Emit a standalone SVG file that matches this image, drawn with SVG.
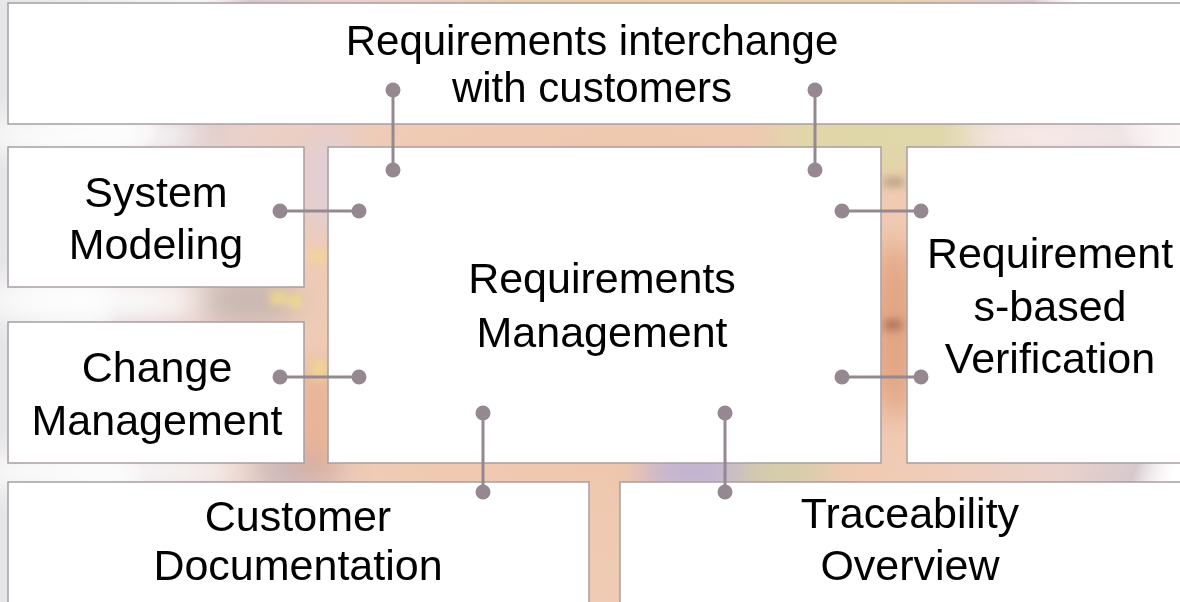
<svg xmlns="http://www.w3.org/2000/svg" width="1180" height="602" viewBox="0 0 1180 602">
  <defs>
    <linearGradient id="bgLeft" x1="0" y1="0" x2="1" y2="0">
      <stop offset="0" stop-color="#e6e5e8"/>
      <stop offset="0.15" stop-color="#f6f5f6"/>
      <stop offset="1" stop-color="#ffffff"/>
    </linearGradient>
    <radialGradient id="wafer" cx="0.5" cy="0.5" r="0.5">
      <stop offset="0" stop-color="#ebbd9e"/>
      <stop offset="0.55" stop-color="#efc6ad"/>
      <stop offset="0.8" stop-color="#e8cdc6"/>
      <stop offset="0.93" stop-color="#d2c4c8"/>
      <stop offset="1" stop-color="#f4f0f0" stop-opacity="0"/>
    </radialGradient>
    <filter id="blur" x="-50%" y="-50%" width="200%" height="200%">
      <feGaussianBlur stdDeviation="14"/>
    </filter>
    <filter id="blurS" x="-50%" y="-50%" width="200%" height="200%">
      <feGaussianBlur stdDeviation="4"/>
    </filter>
    <style>
      .box { fill: #ffffff; stroke: #a89ea3; stroke-width: 1.5; }
      .lbl { font-family: "Liberation Sans", Arial, sans-serif; font-size: 43px; fill: #000000; text-anchor: middle; }
      .top { font-size: 42px; }
      .wire { stroke: #958890; stroke-width: 3; fill: none; }
      .dot { fill: #958890; }
    </style>
  </defs>

  <!-- background (photo approximation) -->
  <g id="background">
    <rect x="0" y="0" width="1180" height="602" fill="url(#bgLeft)"/>
    <ellipse cx="640" cy="320" rx="560" ry="520" fill="url(#wafer)" opacity="0.9"/>
    <g filter="url(#blur)">
      <ellipse cx="880" cy="135" rx="110" ry="40" fill="#dcd9a6" opacity="0.8"/>
      <ellipse cx="720" cy="0" rx="260" ry="18" fill="#e6d099" opacity="0.8"/>
      <ellipse cx="700" cy="472" rx="60" ry="22" fill="#b2ace0" opacity="0.8"/>
      <ellipse cx="780" cy="472" rx="50" ry="18" fill="#c2d0a6" opacity="0.7"/>
      <ellipse cx="300" cy="470" rx="45" ry="20" fill="#a9a3b2" opacity="0.6"/>
      <ellipse cx="250" cy="300" rx="50" ry="24" fill="#b0a6a6" opacity="0.6"/>
      <ellipse cx="330" cy="180" rx="30" ry="50" fill="#ddd0dc" opacity="0.8"/>
      <ellipse cx="895" cy="330" rx="24" ry="90" fill="#dc9670" opacity="0.75"/>
      <ellipse cx="316" cy="420" rx="24" ry="60" fill="#e6aa8a" opacity="0.75"/>
      <ellipse cx="1080" cy="135" rx="120" ry="20" fill="#f8eeee" opacity="0.9"/>
      <ellipse cx="90" cy="135" rx="110" ry="22" fill="#ffffff" opacity="0.9"/>
      <ellipse cx="90" cy="300" rx="110" ry="26" fill="#ffffff" opacity="0.9"/>
      <ellipse cx="100" cy="472" rx="140" ry="20" fill="#ffffff" opacity="0.9"/>
    </g>
    <g filter="url(#blurS)">
      <rect x="270" y="292" width="16" height="12" fill="#f3dc8a" opacity="0.9"/>
      <rect x="288" y="295" width="14" height="12" fill="#f3dc8a" opacity="0.9"/>
      <rect x="310" y="250" width="14" height="14" fill="#f0d98c" opacity="0.8"/>
      <rect x="312" y="360" width="14" height="20" fill="#f1dc8c" opacity="0.8"/>
      <rect x="884" y="320" width="18" height="10" fill="#8a4e3a" opacity="0.6"/>
      <rect x="884" y="178" width="20" height="8" fill="#7a6a45" opacity="0.5"/>
    </g>
  </g>

  <!-- nodes -->
  <g id="node-interchange">
    <rect class="box" x="8" y="3" width="1190" height="121"/>
    <text class="lbl top" x="592" y="55">Requirements interchange</text>
    <text class="lbl top" x="592" y="102">with customers</text>
  </g>
  <g id="node-system-modeling">
    <rect class="box" x="8" y="147" width="296" height="140"/>
    <text class="lbl" x="156" y="207">System</text>
    <text class="lbl" x="156" y="259">Modeling</text>
  </g>
  <g id="node-change-management">
    <rect class="box" x="8" y="322" width="296" height="141"/>
    <text class="lbl" x="157" y="382">Change</text>
    <text class="lbl" x="157" y="435">Management</text>
  </g>
  <g id="node-requirements-management">
    <rect class="box" x="328" y="147" width="553" height="316"/>
    <text class="lbl" x="602" y="293">Requirements</text>
    <text class="lbl" x="602" y="347">Management</text>
  </g>
  <g id="node-verification">
    <rect class="box" x="907" y="147" width="290" height="316"/>
    <text class="lbl" x="1050" y="268">Requirement</text>
    <text class="lbl" x="1050" y="321">s-based</text>
    <text class="lbl" x="1050" y="373">Verification</text>
  </g>
  <g id="node-customer-documentation">
    <rect class="box" x="8" y="482" width="581" height="140"/>
    <text class="lbl" x="298" y="531">Customer</text>
    <text class="lbl" x="298" y="580">Documentation</text>
  </g>
  <g id="node-traceability">
    <rect class="box" x="620" y="482" width="580" height="140"/>
    <text class="lbl" x="910" y="528">Traceability</text>
    <text class="lbl" x="910" y="580">Overview</text>
  </g>

  <!-- connectors -->
  <g id="connectors">
    <line class="wire" x1="393" y1="90" x2="393" y2="170"/>
    <circle class="dot" cx="393" cy="90" r="7.5"/>
    <circle class="dot" cx="393" cy="170" r="7.5"/>

    <line class="wire" x1="815" y1="90" x2="815" y2="170"/>
    <circle class="dot" cx="815" cy="90" r="7.5"/>
    <circle class="dot" cx="815" cy="170" r="7.5"/>

    <line class="wire" x1="280" y1="211" x2="359" y2="211"/>
    <circle class="dot" cx="280" cy="211" r="7.5"/>
    <circle class="dot" cx="359" cy="211" r="7.5"/>

    <line class="wire" x1="280" y1="377" x2="359" y2="377"/>
    <circle class="dot" cx="280" cy="377" r="7.5"/>
    <circle class="dot" cx="359" cy="377" r="7.5"/>

    <line class="wire" x1="842" y1="211" x2="921" y2="211"/>
    <circle class="dot" cx="842" cy="211" r="7.5"/>
    <circle class="dot" cx="921" cy="211" r="7.5"/>

    <line class="wire" x1="842" y1="377" x2="921" y2="377"/>
    <circle class="dot" cx="842" cy="377" r="7.5"/>
    <circle class="dot" cx="921" cy="377" r="7.5"/>

    <line class="wire" x1="483" y1="413" x2="483" y2="492"/>
    <circle class="dot" cx="483" cy="413" r="7.5"/>
    <circle class="dot" cx="483" cy="492" r="7.5"/>

    <line class="wire" x1="725" y1="413" x2="725" y2="492"/>
    <circle class="dot" cx="725" cy="413" r="7.5"/>
    <circle class="dot" cx="725" cy="492" r="7.5"/>
  </g>
</svg>
